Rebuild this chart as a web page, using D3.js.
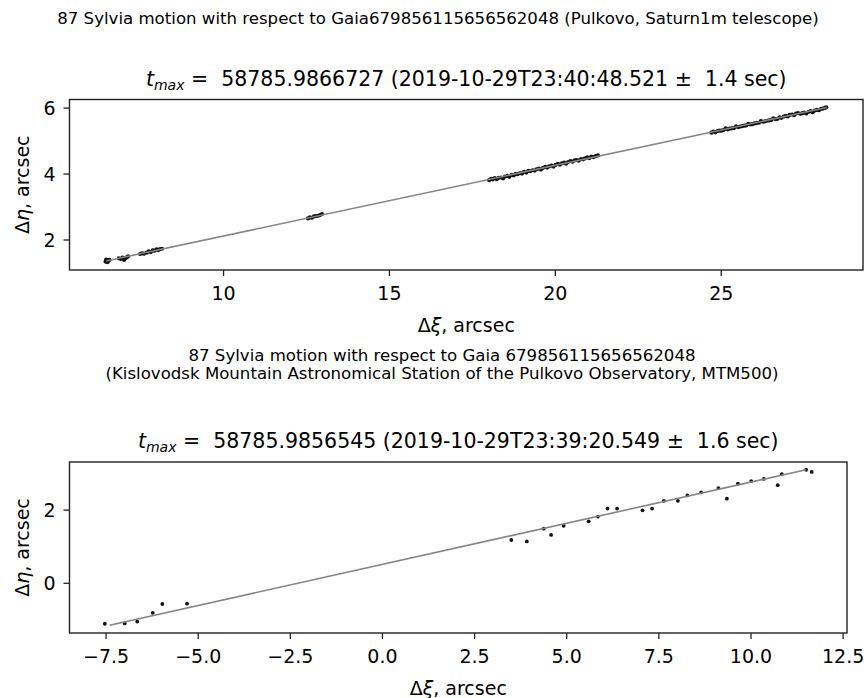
<!DOCTYPE html>
<html>
<head>
<meta charset="utf-8">
<script src="https://cdn.jsdelivr.net/npm/d3@7"></script>
<style>
body { margin: 0; background: #fff; }
text { font-family: "DejaVu Sans", sans-serif; fill: #000; white-space: pre; }
</style>
</head>
<body>
<svg width="866" height="698"></svg>
<script>
// Pulkovo, Saturn1m: offsets of the asteroid from the star (arcsec)
var topXi = [6.46, 6.48, 6.50, 6.52, 6.55, 6.58, 6.86, 6.92, 6.97, 7.02, 7.06, 7.10, 7.14,
    7.50, 7.56, 7.62, 7.70, 7.76, 7.82, 7.88, 7.93, 8.00, 8.05, 8.10, 8.16,
    12.56, 12.62, 12.68, 12.74, 12.80, 12.86, 12.92, 12.98,
    18.02, 18.08, 18.13, 18.19, 18.25, 18.31, 18.38, 18.44, 18.50, 18.57, 18.63, 18.70, 18.76, 18.82,
    18.88, 18.95, 19.01, 19.07, 19.14, 19.20, 19.26, 19.33, 19.39, 19.45, 19.52, 19.58, 19.64, 19.71,
    19.77, 19.83, 19.90, 19.96, 20.02, 20.09, 20.15, 20.21, 20.28, 20.34, 20.40, 20.47, 20.53, 20.60,
    20.66, 20.72, 20.79, 20.85, 20.91, 20.98, 21.04, 21.10, 21.17, 21.23, 21.30,
    24.72, 24.78, 24.84, 24.90, 24.96, 25.02, 25.09, 25.15, 25.21, 25.27, 25.33, 25.40, 25.46, 25.52,
    25.58, 25.65, 25.71, 25.77, 25.83, 25.90, 25.96, 26.02, 26.08, 26.15, 26.21, 26.27, 26.33, 26.40,
    26.46, 26.52, 26.58, 26.65, 26.71, 26.77, 26.83, 26.90, 26.96, 27.02, 27.08, 27.15, 27.21, 27.27,
    27.33, 27.40, 27.46, 27.52, 27.58, 27.65, 27.71, 27.77, 27.83, 27.90, 27.96, 28.02, 28.08, 28.14, 28.18];
var topEta = [1.33, 1.39, 1.35, 1.31, 1.37, 1.38, 1.43, 1.41, 1.45, 1.38, 1.43, 1.46, 1.49,
    1.56, 1.58, 1.57, 1.60, 1.64, 1.62, 1.67, 1.66, 1.70, 1.68, 1.71, 1.72,
    2.64, 2.67, 2.66, 2.70, 2.71, 2.72, 2.74, 2.77,
    3.80, 3.84, 3.82, 3.86, 3.83, 3.87, 3.88, 3.85, 3.91, 3.93, 3.90, 3.96, 3.94, 3.99,
    3.98, 4.01, 4.00, 4.05, 4.03, 4.08, 4.07, 4.10, 4.09, 4.13, 4.15, 4.12, 4.17, 4.20,
    4.18, 4.22, 4.24, 4.21, 4.26, 4.29, 4.27, 4.31, 4.33, 4.30, 4.35, 4.38, 4.36, 4.40,
    4.41, 4.39, 4.44, 4.43, 4.46, 4.49, 4.47, 4.51, 4.50, 4.53, 4.55,
    5.24, 5.27, 5.25, 5.29, 5.30, 5.30, 5.32, 5.37, 5.34, 5.36, 5.37, 5.38, 5.43, 5.41,
    5.42, 5.44, 5.45, 5.46, 5.51, 5.49, 5.50, 5.52, 5.53, 5.54, 5.59, 5.57, 5.58, 5.60,
    5.61, 5.62, 5.67, 5.65, 5.66, 5.70, 5.69, 5.73, 5.75, 5.73, 5.78, 5.79, 5.77, 5.82,
    5.83, 5.81, 5.83, 5.85, 5.82, 5.87, 5.89, 5.86, 5.91, 5.93, 5.92, 5.96, 5.97, 5.99, 6.01];
var topFitXi = [6.48, 28.20];
var topFitEta = [1.35, 6.00];
var topXTicks = [10, 15, 20, 25];
var topYTicks = [2, 4, 6];

// Kislovodsk, MTM500
var botXi = [-7.52, -6.98, -6.64, -6.22, -5.96, -5.29,
    3.51, 3.93, 4.39, 4.59, 4.93, 5.61, 5.86, 6.12, 6.38, 7.07, 7.33, 7.65, 8.03, 8.29,
    8.66, 9.13, 9.36, 9.66, 10.02, 10.36, 10.74, 10.85, 11.51, 11.66];
var botEta = [-1.12, -1.11, -1.06, -0.82, -0.58, -0.57,
    1.17, 1.13, 1.48, 1.31, 1.56, 1.68, 1.81, 2.03, 2.03, 1.98, 2.03, 2.24, 2.24, 2.39,
    2.47, 2.59, 2.30, 2.71, 2.78, 2.84, 2.67, 2.97, 3.09, 3.03];
var botFitXi = [-7.39, 11.51];
var botFitEta = [-1.16, 3.09];
var botXTicks = [-7.5, -5.0, -2.5, 0.0, 2.5, 5.0, 7.5, 10.0, 12.5];
var botYTicks = [0, 2];

var svg = d3.select("svg");

// pad the data range by 5% like matplotlib autoscale
function padded(a, b) {
    var lo = Math.min(d3.min(a), d3.min(b)), hi = Math.max(d3.max(a), d3.max(b));
    var m = (hi - lo) * 0.05;
    return [lo - m, hi + m];
}

function axisLabel(g, x, y, greek, rotate) {
    var t = g.append("text")
        .attr("font-size", 19)
        .attr("text-anchor", "middle")
        .attr("transform", "translate(" + x + "," + y + ")" + (rotate ? " rotate(-90)" : ""));
    t.append("tspan").text("Δ");
    t.append("tspan").attr("font-style", "italic").text(greek);
    t.append("tspan").text(", arcsec");
}

function drawPanel(p) {
    var x = d3.scaleLinear().domain(padded(p.xs, p.fitX)).range([p.left, p.right]);
    var y = d3.scaleLinear().domain(padded(p.ys, p.fitY)).range([p.bottom, p.top]);
    var g = svg.append("g");

    var xAxis = g.append("g")
        .attr("transform", "translate(0," + p.bottom + ")")
        .call(d3.axisBottom(x).tickValues(p.xTicks).tickFormat(p.xFmt).tickSize(6).tickPadding(11));
    var yAxis = g.append("g")
        .attr("transform", "translate(" + p.left + ",0)")
        .call(d3.axisLeft(y).tickValues(p.yTicks).tickFormat(d3.format("d")).tickSize(6).tickPadding(8));
    [xAxis, yAxis].forEach(function (a) {
        a.select(".domain").remove();
        a.selectAll("line").attr("stroke", "#222").attr("stroke-width", 1.3);
        a.selectAll("text").attr("font-size", 19).attr("font-family", "DejaVu Sans").attr("fill", "#000");
    });
    yAxis.selectAll("text").attr("dy", "0.36em");

    // scatter of measured offsets
    g.append("g").selectAll("circle")
        .data(d3.range(p.xs.length))
        .enter().append("circle")
        .attr("cx", function (i) { return x(p.xs[i]); })
        .attr("cy", function (i) { return y(p.ys[i]); })
        .attr("r", p.r)
        .attr("fill", "#111");

    // fitted motion
    g.append("path")
        .datum(d3.range(p.fitX.length))
        .attr("fill", "none")
        .attr("stroke", "#858585")
        .attr("stroke-width", 1.6)
        .attr("d", d3.line().x(function (i) { return x(p.fitX[i]); }).y(function (i) { return y(p.fitY[i]); }));

    g.append("rect")
        .attr("x", p.left).attr("y", p.top)
        .attr("width", p.right - p.left).attr("height", p.bottom - p.top)
        .attr("fill", "none").attr("stroke", "#222").attr("stroke-width", 1.4);

    var cx = (p.left + p.right) / 2;
    var title = g.append("text")
        .attr("x", cx).attr("y", p.top - 14)
        .attr("text-anchor", "middle")
        .attr("font-size", 20.5);
    title.append("tspan").attr("font-style", "italic").text("t");
    title.append("tspan").attr("font-style", "italic").attr("font-size", 14).attr("dy", 4).text("max");
    title.append("tspan").attr("dy", -4).text(" =  " + p.title);

    axisLabel(g, cx, p.bottom + 62, "ξ", false);
    axisLabel(g, 29, (p.top + p.bottom) / 2, "η", true);
}

svg.append("text")
    .attr("x", 438).attr("y", 24)
    .attr("text-anchor", "middle").attr("font-size", 16.6)
    .text("87 Sylvia motion with respect to Gaia679856115656562048 (Pulkovo, Saturn1m telescope)");

drawPanel({
    xs: topXi, ys: topEta, fitX: topFitXi, fitY: topFitEta,
    xTicks: topXTicks, yTicks: topYTicks, xFmt: d3.format("d"),
    left: 69.5, right: 863, top: 99.5, bottom: 270, r: 2.1,
    title: "58785.9866727 (2019-10-29T23:40:48.521 ±  1.4 sec)"
});

svg.append("text")
    .attr("x", 442).attr("y", 361)
    .attr("text-anchor", "middle").attr("font-size", 16.6)
    .text("87 Sylvia motion with respect to Gaia 679856115656562048");
svg.append("text")
    .attr("x", 442).attr("y", 379)
    .attr("text-anchor", "middle").attr("font-size", 16.6)
    .text("(Kislovodsk Mountain Astronomical Station of the Pulkovo Observatory, MTM500)");

drawPanel({
    xs: botXi, ys: botEta, fitX: botFitXi, fitY: botFitEta,
    xTicks: botXTicks, yTicks: botYTicks, xFmt: d3.format(".1f"),
    left: 69.5, right: 847, top: 462, bottom: 633, r: 1.9,
    title: "58785.9856545 (2019-10-29T23:39:20.549 ±  1.6 sec)"
});
</script>
</body>
</html>
